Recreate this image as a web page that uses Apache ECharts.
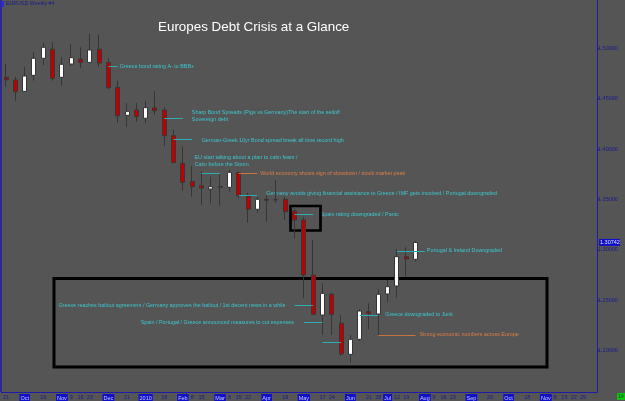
<!DOCTYPE html>
<html lang="en">
<head>
    <meta charset="UTF-8">
    <title>Europes Debt Crisis at a Glance</title>
    <script src="https://cdn.jsdelivr.net/npm/echarts@6/dist/echarts.min.js"></script>
    <style>
        html, body { margin: 0; padding: 0; background: #555555; }
        #chart { width: 625px; height: 401px; }
    </style>
</head>
<body>
<div id="chart"></div>
<script>
    // week labels along the bottom (MT4 style, empty = no label)
    var weekLabels = ['21','','Oct','','19','','Nov','9','16','23','','Dec','','21','','2010','','18','','Feb',
        '8','15','','Mar','8','15','22','','Apr','','19','','May','','17','24','','Jun','','21',
        '28','Jul','12','19','','Aug','9','16','23','','Sep','','20','','Oct','','18','','Nov','8',
        '15','22','29',''];

    // EURUSD weekly candles
    var opens = [1.4712,1.4686,1.4573,1.4732,1.4901,1.4990,1.4712,1.4844,1.4891,1.4861,1.4990,1.4857,1.4613,1.4335,1.4388,
        1.4306,1.4408,1.4388,1.4133,1.3859,1.3677,1.3637,1.3604,1.3628,1.3621,1.3766,1.3535,1.3403,1.3502,1.3492,
        1.3502,1.3386,1.3297,1.2751,1.2354,1.2560,1.2272,1.1964,1.2113,1.2387,1.2364,1.2563,1.2642,1.2933,1.2907];
    var closes = [1.4688,1.4569,1.4725,1.4901,1.5010,1.4702,1.4841,1.4907,1.4861,1.4983,1.4854,1.4609,1.4331,1.4375,1.4321,
        1.4411,1.4381,1.4133,1.3865,1.3671,1.3627,1.3614,1.3627,1.3622,1.3770,1.3538,1.3403,1.3502,1.3492,1.3500,
        1.3379,1.3297,1.2751,1.2361,1.2569,1.2361,1.1967,1.2113,1.2394,1.2371,1.2560,1.2635,1.2933,1.2910,1.30742];
    var lows = [1.4616,1.4480,1.4566,1.4679,1.4831,1.4679,1.4629,1.4824,1.4802,1.4851,1.4817,1.4593,1.4262,1.4219,1.4272,
        1.4256,1.4338,1.4031,1.3860,1.3587,1.3528,1.3445,1.3462,1.3436,1.3577,1.3512,1.3270,1.3369,1.3280,1.3468,
        1.3297,1.3115,1.2520,1.2354,1.2156,1.2156,1.1947,1.1881,1.2096,1.2212,1.2156,1.2480,1.2526,1.2734,1.2883];
    var highs = [1.4844,1.4718,1.4815,1.4963,1.5056,1.5063,1.4911,1.5043,1.5010,1.5142,1.5135,1.4901,1.4679,1.4457,1.4457,
        1.4480,1.4576,1.4415,1.4189,1.4024,1.3832,1.3783,1.3726,1.3753,1.3793,1.3776,1.3567,1.3528,1.3535,1.3693,
        1.3528,1.3413,1.3329,1.3098,1.2669,1.2569,1.2354,1.2156,1.2414,1.2470,1.2609,1.2701,1.3009,1.3026,1.3091];

    var priceTicks = [1.20, 1.25, 1.30, 1.35, 1.40, 1.45, 1.50];

    // annotations: text, from week, to week, price level of the pointer line
    var noteTexts = [
        'Greece bond rating A- to BBB+',
        'Sharp Bond Spreads (Pigs vs Germany)The start of the selloff\nSovereign debt',
        'German-Greek 10yr Bond spread break all time record high',
        'EU start talking about a plan to calm fears /\nCalm before the Storm',
        'World economy shows sign of slowdown / stock market peak',
        'Germany avoids giving financial assistance to Greece / IMF gets involved / Portugal downgraded',
        'Spain rating downgraded / Panic',
        'Portugal & Ireland Downgraded',
        'Greece reaches bailout agreement / Germany approves the bailout / 1st decent news in a while',
        'Spain / Portugal / Greece announced measures to cut expenses',
        '',
        'Greece downgraded to Junk',
        'Strong economic numbers across Europe'
    ];
    var noteFrom  = [11, 17, 18, 21, 25, 25, 31, 42, 31, 32, 34, 38, 40];
    var noteTo    = [12, 19, 20, 23, 27, 27, 33, 45, 33, 34, 36, 40, 44];
    var noteLevel = [1.4824, 1.4311, 1.4093, 1.3763, 1.3760, 1.3545, 1.3356, 1.2989, 1.2453, 1.2282, 1.2081, 1.2354, 1.2156];

    // where each text sits relative to its line (pixels) and its colour
    var CYAN = '#3cc6d0', CYAN_LINE = '#2fa9b2', ORANGE = '#de7d47';
    var noteLayout = [
        {at: 'end', dx: 2, dy: 0, c: CYAN},
        {at: 'end', dx: 9, dy: -1.4, c: CYAN},
        {at: 'end', dx: 9.5, dy: 0.3, c: CYAN},
        {at: 'start', dx: -7, dy: -12.3, c: CYAN},
        {at: 'end', dx: 3, dy: 0, c: ORANGE},
        {at: 'end', dx: 9, dy: -1.5, c: CYAN},
        {at: 'end', dx: 7.5, dy: 0, c: CYAN},
        {at: 'end', dx: 2, dy: 0, c: CYAN},
        {at: 'start', dx: -9, dy: 0, c: CYAN, right: true},
        {at: 'start', dx: -10, dy: 0, c: CYAN, right: true},
        {at: 'end', dx: 0, dy: 0, c: CYAN},
        {at: 'end', dx: 7, dy: -1, c: CYAN},
        {at: 'end', dx: 4, dy: 0, c: ORANGE}
    ];

    var FONT = '"Liberation Sans", Arial, sans-serif';
    var AXIS_BLUE = '#1c1ca8';
    var LABEL_BLUE = '#1a1a8e';

    var candles = [];
    for (var i = 0; i < opens.length; i++) {
        candles.push([opens[i], closes[i], lows[i], highs[i]]);
    }

    var lines = [];
    for (var n = 0; n < noteTexts.length; n++) {
        var lc = noteLayout[n].c === ORANGE ? '#c8733f' : CYAN_LINE;
        lines.push([
            {coord: [noteFrom[n], noteLevel[n]], lineStyle: {color: lc}},
            {coord: [noteTo[n], noteLevel[n]]}
        ]);
    }

    var chart = echarts.init(document.getElementById('chart'));
    chart.setOption({
        animation: false,
        backgroundColor: '#555555',
        title: {
            text: 'Europes Debt Crisis at a Glance',
            left: 158, top: 21, padding: 0,
            textStyle: {color: '#ffffff', fontSize: 13.4, fontWeight: 'normal', fontFamily: FONT}
        },
        grid: {left: 1, right: 28, top: 0, bottom: 9},
        xAxis: {
            type: 'category',
            data: weekLabels,
            boundaryGap: true,
            axisLine: {lineStyle: {color: AXIS_BLUE, width: 1}},
            axisTick: {
                alignWithLabel: true, length: 2, lineStyle: {color: AXIS_BLUE},
                interval: function (idx, val) { return val !== ''; }
            },
            axisLabel: {
                interval: 0, margin: 2, fontSize: 5.5, fontFamily: FONT,
                formatter: function (val) {
                    if (val === '') return '';
                    return /^\d{1,2}$/.test(val) ? '{d|' + val + '}' : '{m|' + val + '}';
                },
                rich: {
                    d: {color: LABEL_BLUE, fontSize: 5.5, fontFamily: FONT},
                    m: {color: '#c8c8ff', fontSize: 5.5, fontFamily: FONT,
                        backgroundColor: '#1010c8', padding: [1, 1, 0, 1]}
                }
            },
            splitLine: {show: false}
        },
        yAxis: {
            type: 'value',
            position: 'right',
            min: 1.15903,
            max: 1.54792,
            axisLine: {show: true, lineStyle: {color: AXIS_BLUE, width: 1}},
            axisTick: {show: true, length: 2, customValues: priceTicks, lineStyle: {color: AXIS_BLUE}},
            axisLabel: {
                customValues: priceTicks, margin: 1, color: LABEL_BLUE, fontSize: 5.5, fontFamily: FONT,
                formatter: function (v) { return v.toFixed(5); }
            },
            splitLine: {show: false}
        },
        series: [{
            type: 'candlestick',
            data: candles,
            barWidth: 4.5,
            itemStyle: {
                color: '#ffffff', color0: '#c00000',
                borderColor: '#363636', borderColor0: '#363636', borderWidth: 1
            },
            markLine: {
                silent: true,
                symbol: ['none', 'none'],
                label: {show: false},
                lineStyle: {type: 'solid', width: 1},
                data: lines
            }
        }]
    });

    // annotation texts, boxes and chart furniture
    var gfx = [];
    for (var k = 0; k < noteTexts.length; k++) {
        if (!noteTexts[k]) continue;
        var L = noteLayout[k];
        var anchorIdx = L.at === 'end' ? noteTo[k] : noteFrom[k];
        var p = chart.convertToPixel({gridIndex: 0}, [anchorIdx, noteLevel[k]]);
        var multi = noteTexts[k].indexOf('\n') >= 0;
        gfx.push({
            type: 'text', silent: true,
            x: p[0] + L.dx, y: p[1] + L.dy,
            style: {
                text: noteTexts[k], fill: L.c, font: '5.4px ' + FONT,
                align: L.right ? 'right' : 'left', verticalAlign: 'middle',
                lineHeight: multi ? 7 : 6
            }
        });
    }

    // black highlight boxes
    gfx.push({type: 'rect', silent: true, shape: {x: 54, y: 278.5, width: 493, height: 88.5},
        style: {fill: 'none', stroke: '#000000', lineWidth: 3}});
    gfx.push({type: 'rect', silent: true, shape: {x: 290.5, y: 206, width: 30, height: 24.5},
        style: {fill: 'none', stroke: '#000000', lineWidth: 2.7}});

    // window left border and header
    gfx.push({type: 'line', silent: true, shape: {x1: 1, y1: 0, x2: 1, y2: 392},
        style: {stroke: AXIS_BLUE, lineWidth: 1.5}});
    gfx.push({type: 'rect', silent: true, shape: {x: 1, y: 1, width: 3, height: 6},
        style: {fill: '#2a2ad0'}});
    gfx.push({type: 'text', silent: true, x: 6, y: 4,
        style: {text: 'EURUSD Weekly #4', fill: LABEL_BLUE, font: '5.3px ' + FONT, verticalAlign: 'middle'}});

    // current price tag on the price axis
    var last = closes[closes.length - 1];
    var pp = chart.convertToPixel({gridIndex: 0}, [opens.length - 1, last]);
    gfx.push({type: 'rect', silent: true, shape: {x: 599, y: pp[1] - 3.5, width: 21, height: 7},
        style: {fill: '#1010c8'}});
    gfx.push({type: 'text', silent: true, x: 600, y: pp[1],
        style: {text: last.toFixed(5), fill: '#e0e0ff', font: '5.5px ' + FONT, verticalAlign: 'middle'}});

    // green box in the corner
    gfx.push({type: 'rect', silent: true, shape: {x: 617, y: 393, width: 8, height: 7},
        style: {fill: '#10c010'}});
    gfx.push({type: 'text', silent: true, x: 621, y: 396.5,
        style: {text: '14', fill: '#105010', font: '5px ' + FONT, align: 'center', verticalAlign: 'middle'}});

    chart.setOption({graphic: gfx});
</script>
</body>
</html>
